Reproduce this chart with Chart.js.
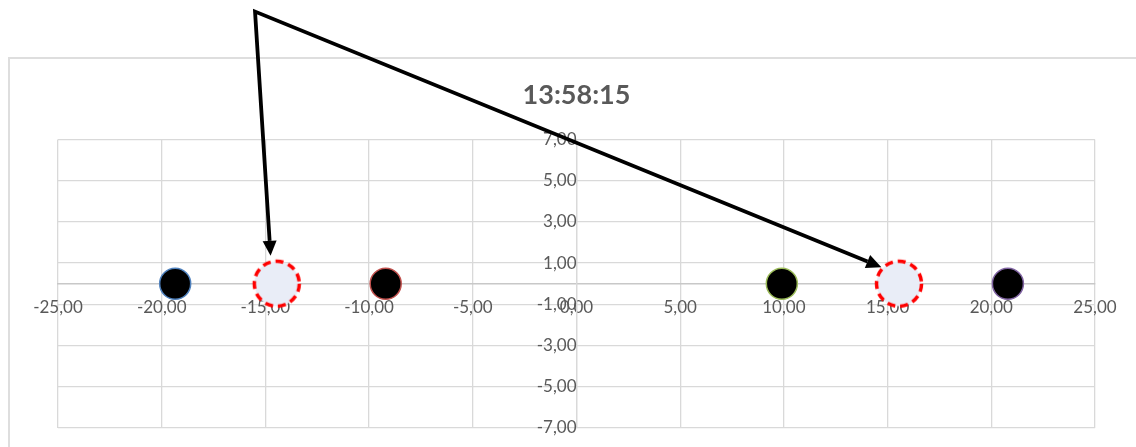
<!DOCTYPE html>
<html>
<head>
<meta charset="utf-8">
<script src="https://cdn.jsdelivr.net/npm/chart.js@4"></script>
<style>
  html, body { margin: 0; padding: 0; background: #fff; overflow: hidden; }
  #wrap { position: relative; width: 1136px; height: 447px; overflow: hidden; }
  #frame { position: absolute; left: 8px; top: 57px; width: 1200px; height: 500px; border: 2px solid #dedede; box-sizing: border-box; }
  #chart { position: absolute; left: 0; top: 0; }
</style>
</head>
<body>
<div id="wrap">
  <div id="frame"></div>
  <canvas id="chart" width="1136" height="453"></canvas>
</div>
<script>
// solid markers (black dots with coloured rims)
const dotX = [-19.35, -9.2, 9.9, 20.8];
const dotY = [0, 0, 0, 0];
const dotRims = ['#4f81bd', '#c0504d', '#9bbb59', '#8064a2'];

// dashed target rings
const ringX = [-14.45, 15.55];
const ringY = [0, 0];

// arrows: one shared start, two tips (axis units)
const arrowStart = [-15.5, 13.2];
const arrowTips = [[-14.75, 1.35], [14.7, 0.8]];

const chartTitle = '13:58:15';
const xMin = -25, xMax = 25, xStep = 5;
const yMin = -7, yMax = 7, yStep = 2;

const fmt = v => Number(v).toFixed(2).replace('.', ',');

function ringImage(r, lw) {
  const c = document.createElement('canvas');
  const s = Math.ceil(2 * (r + lw));
  c.width = c.height = s;
  const g = c.getContext('2d');
  g.beginPath();
  g.arc(s / 2, s / 2, r, 0, Math.PI * 2);
  g.fillStyle = '#e9edf7';
  g.fill();
  g.setLineDash([8, 5]);
  g.lineWidth = lw;
  g.strokeStyle = '#ff0000';
  g.stroke();
  return c;
}
const ring = ringImage(22.5, 3.5);

const arrowPlugin = {
  id: 'arrows',
  afterDraw(chart) {
    const { ctx, scales: { x, y } } = chart;
    const sx = x.getPixelForValue(arrowStart[0]);
    const sy = y.getPixelForValue(arrowStart[1]);
    const headLen = 15, headHalf = 7;
    const heads = arrowTips.map(([tx, ty]) => {
      const ex = x.getPixelForValue(tx), ey = y.getPixelForValue(ty);
      const a = Math.atan2(ey - sy, ex - sx);
      return { ex, ey, a, bx: ex - headLen * Math.cos(a), by: ey - headLen * Math.sin(a) };
    });
    ctx.save();
    ctx.strokeStyle = '#000';
    ctx.fillStyle = '#000';
    ctx.lineWidth = 3.8;
    ctx.lineJoin = 'miter';
    // both shafts in one path so the corner at the start is mitred
    ctx.beginPath();
    ctx.moveTo(heads[0].bx, heads[0].by);
    ctx.lineTo(sx, sy);
    ctx.lineTo(heads[1].bx, heads[1].by);
    ctx.stroke();
    heads.forEach(h => {
      ctx.beginPath();
      ctx.moveTo(h.ex, h.ey);
      ctx.lineTo(h.bx + headHalf * Math.sin(h.a), h.by - headHalf * Math.cos(h.a));
      ctx.lineTo(h.bx - headHalf * Math.sin(h.a), h.by + headHalf * Math.cos(h.a));
      ctx.closePath();
      ctx.fill();
    });
    ctx.restore();
  }
};

const tickFont = { family: 'Lato, "Open Sans", sans-serif', size: 17 };
const hidden = 'rgba(0,0,0,0)';
// axes sit inside the plot, so they should not push the plot edges in
const noPadding = s => { s.paddingTop = 0; s.paddingBottom = 0; s.paddingLeft = 0; s.paddingRight = 0; };

new Chart(document.getElementById('chart').getContext('2d'), {
  type: 'scatter',
  data: {
    datasets: [{
      label: 'rings',
      data: ringX.map((v, i) => ({ x: v, y: ringY[i] })),
      pointStyle: ring,
      pointRadius: 24,
      order: 1
    }, {
      label: 'dots',
      data: dotX.map((v, i) => ({ x: v, y: dotY[i] })),
      backgroundColor: '#000',
      borderColor: dotRims,
      borderWidth: 1.5,
      pointRadius: 15.5,
      order: 0
    }]
  },
  options: {
    responsive: false,
    animation: false,
    layout: { padding: { left: 58, right: 41, top: 60, bottom: 20 } },
    plugins: {
      legend: { display: false },
      tooltip: { enabled: false },
      title: {
        display: true,
        text: chartTitle,
        color: '#595959',
        font: { family: 'Lato, "Open Sans", sans-serif', size: 27, weight: 'bold' },
        padding: { top: 19, bottom: 28 }
      }
    },
    // invisible tick marks keep the labels clear of the axis lines
    scales: {
      x: {
        type: 'linear',
        position: { y: 0 },
        min: xMin, max: xMax,
        afterFit: noPadding,
        ticks: { stepSize: xStep, callback: fmt, color: '#595959', font: tickFont, padding: 3, maxRotation: 0 },
        grid: { color: '#d9d9d9', lineWidth: 1.3, drawTicks: true, tickLength: 11, tickColor: hidden },
        border: { color: '#c8c8c8', width: 1.5 }
      },
      y: {
        type: 'linear',
        position: { x: 0 },
        min: yMin, max: yMax,
        afterFit: noPadding,
        ticks: { stepSize: yStep, callback: fmt, color: '#595959', font: tickFont, padding: 3 },
        grid: { color: '#d9d9d9', lineWidth: 1.3, drawTicks: true, tickLength: 16, tickColor: hidden },
        border: { color: '#d9d9d9', width: 1.3 }
      }
    }
  },
  plugins: [arrowPlugin]
});
</script>
</body>
</html>
